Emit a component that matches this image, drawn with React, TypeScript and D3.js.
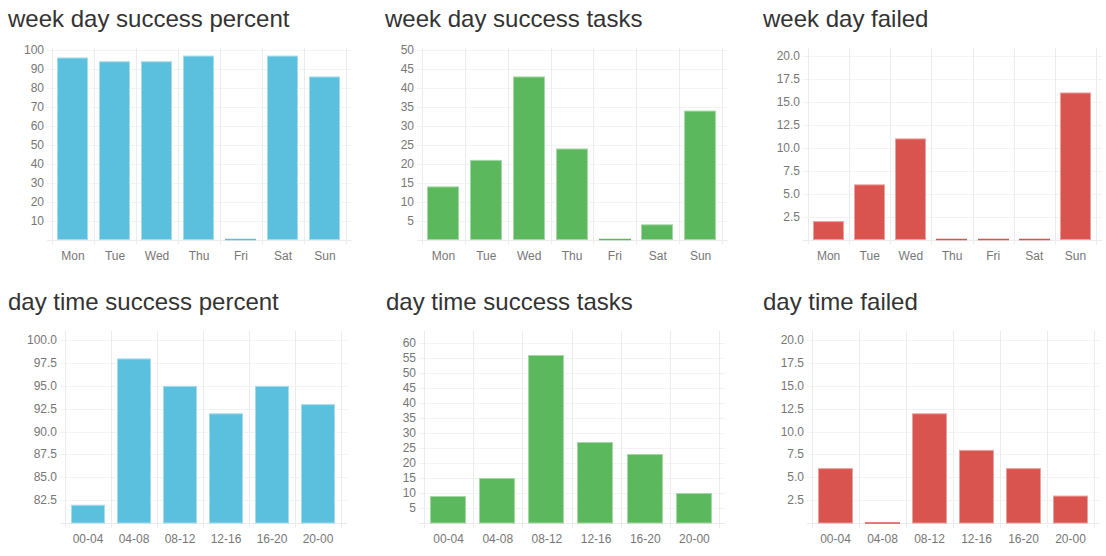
import React, { useEffect, useRef } from 'react';
import * as d3 from 'd3';

const weekDays = ['Mon', 'Tue', 'Wed', 'Thu', 'Fri', 'Sat', 'Sun'];
const dayTimes = ['00-04', '04-08', '08-12', '12-16', '16-20', '20-00'];

const weekSuccessPercent = [96, 94, 94, 97, 0, 97, 86];
const weekSuccessTasks = [14, 21, 43, 24, 0, 4, 34];
const weekFailed = [2, 6, 11, 0, 0, 0, 16];

const timeSuccessPercent = [82, 98, 95, 92, 95, 93];
const timeSuccessTasks = [9, 15, 56, 27, 23, 10];
const timeFailed = [6, 0, 12, 8, 6, 3];

const ticksBy10 = [10, 20, 30, 40, 50, 60, 70, 80, 90, 100];
const ticksBy5To50 = [5, 10, 15, 20, 25, 30, 35, 40, 45, 50];
const ticksBy5To60 = [5, 10, 15, 20, 25, 30, 35, 40, 45, 50, 55, 60];
const ticksFailed = [2.5, 5, 7.5, 10, 12.5, 15, 17.5, 20];
const ticksPercentHigh = [82.5, 85, 87.5, 90, 92.5, 95, 97.5, 100];

const BLUE = '#5bc0de';
const GREEN = '#5cb85c';
const RED = '#d9534f';

// layout of the six panels (two rows of three)
const charts = [
  { title: 'week day success percent', cats: weekDays, values: weekSuccessPercent, ticks: ticksBy10, fmt: 'd', domain: [0, 101], color: BLUE, titleX: 8, x0: 52, x1: 346, row: 0 },
  { title: 'week day success tasks', cats: weekDays, values: weekSuccessTasks, ticks: ticksBy5To50, fmt: 'd', domain: [0, 50.5], color: GREEN, titleX: 385, x0: 422, x1: 722, row: 0 },
  { title: 'week day failed', cats: weekDays, values: weekFailed, ticks: ticksFailed, fmt: '.1f', domain: [0, 20.84], color: RED, titleX: 763, x0: 808, x1: 1096, row: 0 },
  { title: 'day time success percent', cats: dayTimes, values: timeSuccessPercent, ticks: ticksPercentHigh, fmt: '.1f', domain: [80, 101], color: BLUE, titleX: 8, x0: 65, x1: 341, row: 1 },
  { title: 'day time success tasks', cats: dayTimes, values: timeSuccessTasks, ticks: ticksBy5To60, fmt: 'd', domain: [0, 64], color: GREEN, titleX: 386, x0: 424, x1: 719, row: 1 },
  { title: 'day time failed', cats: dayTimes, values: timeFailed, ticks: ticksFailed, fmt: '.1f', domain: [0, 21], color: RED, titleX: 763, x0: 812, x1: 1094, row: 1 },
];

const rows = [
  { titleY: 27, top: 48, bottom: 239.5 },
  { titleY: 310, top: 331, bottom: 523 },
];

const Dashboard = () => {
  const svgRef = useRef<SVGSVGElement>(null);

  useEffect(() => {
    const svg = d3.select(svgRef.current);
    svg.selectAll('*').remove();

    charts.forEach(c => {
      const r = rows[c.row];
      const g = svg.append('g');

      g.append('text')
        .attr('x', c.titleX)
        .attr('y', r.titleY)
        .attr('fill', '#333')
        .style('font-family', '"Liberation Sans", Arial, sans-serif')
        .style('font-size', '24px')
        .text(c.title);

      const x = d3.scaleBand<string>().domain(c.cats).range([c.x0, c.x1]).padding(0);
      const y = d3.scaleLinear().domain(c.domain).range([r.bottom, r.top]);
      const step = x.step();

      // horizontal grid
      g.selectAll('.hgrid')
        .data([c.domain[0], ...c.ticks])
        .enter().append('line')
        .attr('x1', c.x0 - 5)
        .attr('x2', c.x1 + 6)
        .attr('y1', d => Math.round(y(d)) + 0.5)
        .attr('y2', d => Math.round(y(d)) + 0.5)
        .attr('stroke', (d, i) => i === 0 ? '#ececec' : '#f3f3f3');

      // vertical grid at band edges
      const edges = c.cats.map(k => x(k) as number).concat([c.x1]);
      g.selectAll('.vgrid')
        .data(edges)
        .enter().append('line')
        .attr('x1', d => Math.round(d) + 0.5)
        .attr('x2', d => Math.round(d) + 0.5)
        .attr('y1', r.top)
        .attr('y2', r.bottom + 5)
        .attr('stroke', '#ececec');

      const fmt = d3.format(c.fmt);
      g.selectAll('.ylab')
        .data(c.ticks)
        .enter().append('text')
        .attr('x', c.x0 - 8)
        .attr('y', d => y(d) + 4)
        .attr('text-anchor', 'end')
        .attr('fill', '#777')
        .style('font-family', '"Liberation Sans", Arial, sans-serif')
        .style('font-size', '12px')
        .text(d => fmt(d));

      g.selectAll('.xlab')
        .data(c.cats)
        .enter().append('text')
        .attr('x', d => (x(d) as number) + step / 2)
        .attr('y', r.bottom + 20)
        .attr('text-anchor', 'middle')
        .attr('fill', '#777')
        .style('font-family', '"Liberation Sans", Arial, sans-serif')
        .style('font-size', '12px')
        .text(d => d);

      const light = d3.interpolateRgb(c.color, '#fff')(0.45);
      const base = y(c.domain[0]);
      const barW = Math.round(step * 0.72);
      const pts = c.values.map((v, i) => ({ v, bx: Math.round((x(c.cats[i]) as number) + step * 0.12) }));

      // non-zero values as bars
      g.selectAll('.bar')
        .data(pts.filter(p => p.v > c.domain[0]))
        .enter().append('rect')
        .attr('x', p => p.bx + 0.5)
        .attr('width', barW)
        .attr('y', p => y(p.v) + 0.5)
        .attr('height', p => base - y(p.v) - 0.5)
        .attr('fill', c.color)
        .attr('stroke', light)
        .attr('stroke-width', 1);

      // zero values as a thin line on the baseline
      g.selectAll('.zero')
        .data(pts.filter(p => p.v <= c.domain[0]))
        .enter().append('line')
        .attr('x1', p => p.bx)
        .attr('x2', p => p.bx + barW + 1)
        .attr('y1', base)
        .attr('y2', base)
        .attr('stroke', c.color)
        .attr('stroke-width', 1.5);
    });
  }, []);

  return <svg ref={svgRef} width={1106} height={556} style={{ display: 'block' }} />;
};

export default function App() {
  return (
    <div style={{ position: 'absolute', left: 0, top: 0, background: '#fff' }}>
      <Dashboard />
    </div>
  );
}
